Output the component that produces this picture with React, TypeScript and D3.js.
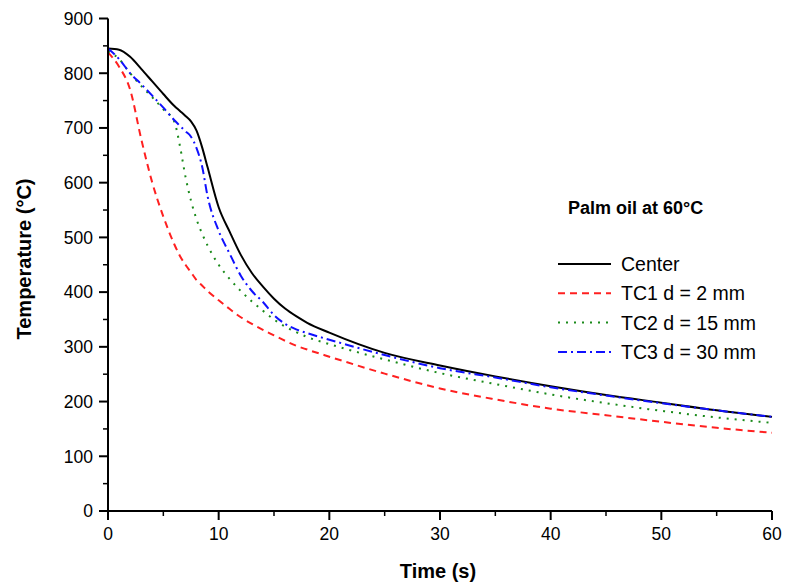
import * as d3 from "d3";

const times = [0, 1, 2, 3, 4, 5, 6, 6.5, 7, 7.5, 8, 8.5, 9, 10, 11, 12, 13, 14, 15, 16, 17, 18, 20, 25, 30, 35, 40, 45, 50, 55, 60];
const centerTemps = [845, 843, 830, 808, 785, 762, 740, 731, 722, 712, 695, 665, 628, 555, 510, 468, 435, 410, 388, 370, 356, 344, 326, 289, 266, 246, 228, 212, 198, 184, 172];
const tc1Temps = [838, 812, 770, 680, 600, 538, 487, 466, 450, 436, 422, 412, 402, 385, 369, 354, 342, 331, 321, 311, 302, 295, 282, 251, 224, 204, 187, 175, 163, 152, 143];
const tc2Temps = [840, 826, 800, 777, 756, 734, 711, 667, 611, 567, 533, 507, 485, 450, 424, 402, 383, 366, 350, 337, 327, 318, 305, 277, 252, 232, 213, 197, 183, 171, 161];
const tc3Temps = [845, 826, 800, 780, 759, 737, 714, 704, 694, 684, 663, 630, 575, 512, 470, 430, 402, 382, 358, 342, 332, 325, 313, 285, 261, 244, 226, 211, 197, 184, 172];

const seriesNames = ["Center", "TC1 d = 2 mm", "TC2 d = 15 mm", "TC3 d = 30 mm"];
const seriesColors = ["#000000", "#ff2020", "#1a8a1a", "#1010ff"];
const seriesDash = ["none", "7,5", "2,6", "9,4,2,4"];
const seriesValues = [centerTemps, tc1Temps, tc2Temps, tc3Temps];

const W = 787;
const H = 586;
const margin = { left: 108, right: 15, top: 18.5, bottom: 75 };

export default function App() {
  const x = d3.scaleLinear().domain([0, 60]).range([margin.left, 772]);
  const y = d3.scaleLinear().domain([0, 900]).range([511, margin.top]);

  const line = d3
    .line<[number, number]>()
    .x((d) => x(d[0]))
    .y((d) => y(d[1]))
    .curve(d3.curveMonotoneX);

  const xMajor = d3.range(0, 61, 10);
  const xMinor = d3.range(5, 60, 10);
  const yMajor = d3.range(0, 901, 100);
  const yMinor = d3.range(50, 900, 100);

  const font = "Liberation Sans, Arial, sans-serif";
  const legendX = 558;
  const legendY = d3.scaleLinear().domain([0, 1]).range([264, 293.3]);

  return (
    <svg
      width={W}
      height={H}
      style={{ position: "absolute", left: 0, top: 0, background: "#fff" }}
      fontFamily={font}
    >
      {seriesValues.map((vals, i) => (
        <path
          key={seriesNames[i]}
          d={line(times.map((t, j) => [t, vals[j]] as [number, number])) || ""}
          fill="none"
          stroke={seriesColors[i]}
          strokeWidth={2}
          strokeDasharray={seriesDash[i]}
        />
      ))}

      {/* axes */}
      <line x1={x(0)} x2={x(60)} y1={y(0)} y2={y(0)} stroke="#000" strokeWidth={2} />
      <line x1={x(0)} x2={x(0)} y1={y(0) + 1} y2={y(900)} stroke="#000" strokeWidth={2} />

      {yMajor.map((v) => (
        <g key={"ym" + v}>
          <line x1={x(0) - 9} x2={x(0)} y1={y(v)} y2={y(v)} stroke="#000" strokeWidth={2} />
          <text x={93} y={y(v)} dy="0.36em" textAnchor="end" fontSize={17.5}>
            {v}
          </text>
        </g>
      ))}
      {yMinor.map((v) => (
        <line key={"yn" + v} x1={x(0) - 5} x2={x(0)} y1={y(v)} y2={y(v)} stroke="#000" strokeWidth={1.5} />
      ))}

      {xMajor.map((v) => (
        <g key={"xm" + v}>
          <line x1={x(v)} x2={x(v)} y1={y(0)} y2={y(0) + 9} stroke="#000" strokeWidth={2} />
          <text x={x(v)} y={540} textAnchor="middle" fontSize={17.5}>
            {v}
          </text>
        </g>
      ))}
      {xMinor.map((v) => (
        <line key={"xn" + v} x1={x(v)} x2={x(v)} y1={y(0)} y2={y(0) + 5} stroke="#000" strokeWidth={1.5} />
      ))}

      <text x={438} y={578} textAnchor="middle" fontSize={20} fontWeight="bold">
        Time (s)
      </text>
      <text
        transform="translate(31,259) rotate(-90)"
        textAnchor="middle"
        fontSize={20}
        fontWeight="bold"
      >
        Temperature (°C)
      </text>

      {/* legend */}
      <text x={568} y={214} fontSize={18} fontWeight="bold">
        Palm oil at 60°C
      </text>
      {seriesNames.map((name, i) => (
        <g key={"lg" + name}>
          <line
            x1={legendX}
            x2={611}
            y1={legendY(i)}
            y2={legendY(i)}
            stroke={seriesColors[i]}
            strokeWidth={2}
            strokeDasharray={seriesDash[i]}
          />
          <text x={621} y={legendY(i)} dy="0.36em" fontSize={19.5}>
            {name}
          </text>
        </g>
      ))}
    </svg>
  );
}
